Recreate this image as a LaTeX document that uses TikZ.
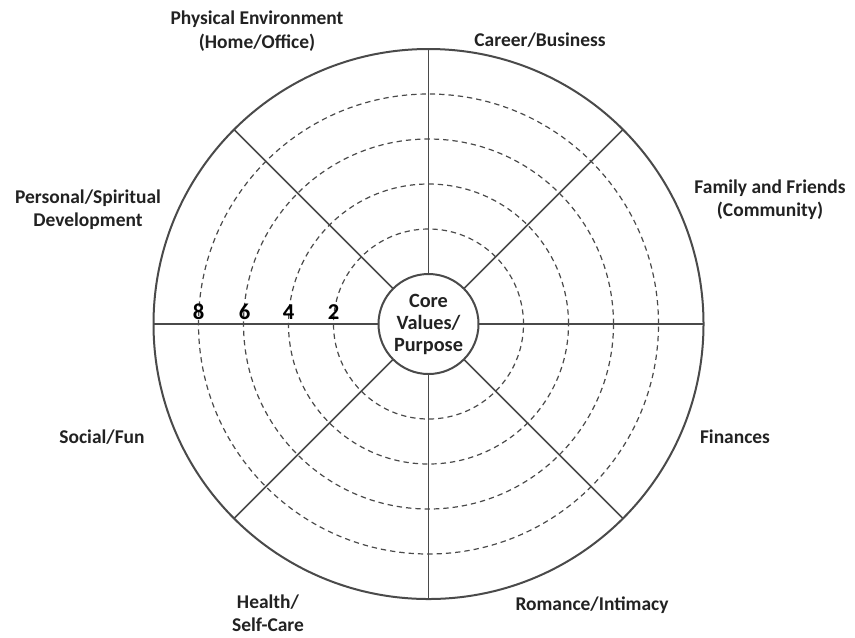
\documentclass[tikz,border=0pt]{standalone}
\usepackage{fontspec}
\setmainfont{Carlito}
\begin{document}
\begin{tikzpicture}[x=0.75pt,y=-0.75pt,
  ring/.style={circle,draw=linegray,line width=1.5pt,inner sep=0pt,outer sep=0pt},
  dashring/.style={circle,draw=linegray,dashed,dash pattern=on 4pt off 3pt,line width=0.9pt,inner sep=0pt,outer sep=0pt},
  spoke/.style={draw=linegray,line width=1.1pt},
  lab/.style={font=\bfseries\fontsize{14.6}{17.5}\selectfont,text=textgray,align=center,inner sep=0pt},
  num/.style={font=\bfseries\fontsize{17}{20}\selectfont,text=black,inner sep=0pt}]
\definecolor{linegray}{HTML}{4A4A4A}
\definecolor{textgray}{HTML}{222222}
\useasboundingbox (0,0) rectangle (855,637);
\fill[white] (0,0) rectangle (855,637);
\coordinate (c) at (428.5,324);
\node[ring,minimum size=550*0.75pt] (outer) at (c) {};
\foreach \r/\n in {95/a,140/b,185/c2,230/d}{
  \node[dashring,minimum size=2*\r*0.75pt] (ring\n) at (c) {};
}
\node[ring,fill=white,minimum size=100*0.75pt,font=\bfseries\fontsize{15.2}{16.5}\selectfont,text=textgray,align=center] (core) at (c) {Core\\Values/\\Purpose};
\foreach \a in {0,45,...,315}{
  \draw[spoke] (core.\a) -- (outer.\a);
}
\node[num] (n8) at (198.5,312) {8};
\node[num] (n6) at (244.5,312) {6};
\node[num] (n4) at (288.5,312) {4};
\node[num] (n2) at (333.5,312) {2};
\node[lab] (phys) at (257,31) {Physical Environment\\(Home/Office)};
\node[lab] (career) at (540,40) {Career/Business};
\node[lab] (family) at (770,200) {Family and Friends\\(Community)};
\node[lab] (fin) at (735,437) {Finances};
\node[lab] (rom) at (592,605) {Romance/Intimacy};
\node[lab] (health) at (268,613) {Health/\\Self-Care};
\node[lab] (social) at (102,437) {Social/Fun};
\node[lab] (pers) at (88,210) {Personal/Spiritual\\Development};
\end{tikzpicture}
\end{document}
